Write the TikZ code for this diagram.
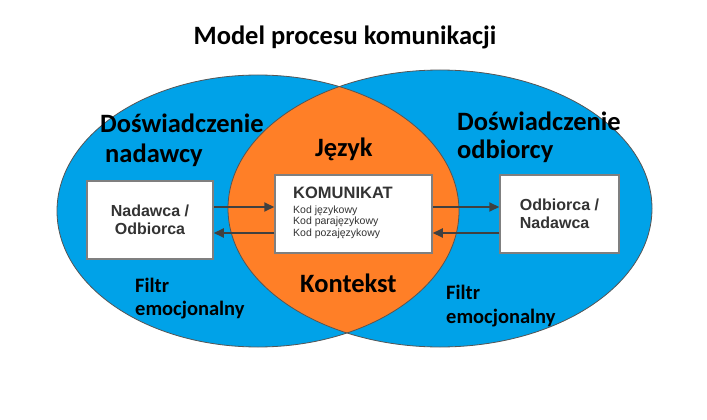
\documentclass[tikz,border=0pt]{standalone}
\usepackage{fontspec}
\setmainfont{Liberation Sans}
\newfontfamily\calfont{Carlito}
\usetikzlibrary{arrows.meta}
\definecolor{vblue}{HTML}{00A2E8}
\definecolor{vorange}{HTML}{FF7F27}
\definecolor{arrgray}{HTML}{404040}
\definecolor{boxgray}{HTML}{7F7F7F}
\definecolor{txtgray}{HTML}{333333}
\definecolor{rimgray}{HTML}{555555}
\begin{document}
\begin{tikzpicture}[x=1pt,y=-1pt,
  biglbl/.style={font=\calfont\bfseries\fontsize{26.5}{26.5}\selectfont, text=black, inner sep=0pt},
  filtrlbl/.style={font=\calfont\bfseries\fontsize{20.5}{20.5}\selectfont, text=black, inner sep=0pt},
  boxnode/.style={draw=boxgray, line width=1.5pt, fill=white, inner sep=0pt},
  boxtxt/.style={font=\bfseries\fontsize{16}{18.5}\selectfont, text=txtgray},
  codetxt/.style={font=\fontsize{10.5}{10.5}\selectfont, text=txtgray, inner sep=0pt},
  arr/.style={draw=arrgray, line width=2pt, -{Triangle[length=10pt,width=9pt]}},
  rim/.style={draw=rimgray, line width=0.8pt}
]
\useasboundingbox (0,0) rectangle (707,420);
\fill[white] (0,0) rectangle (707,420);
% ellipses
\fill[vblue] (258,211) ellipse [x radius=201pt, y radius=136pt];
\fill[vblue] (440,208.5) ellipse [x radius=212pt, y radius=138.5pt];
\begin{scope}
  \clip (258,211) ellipse [x radius=201pt, y radius=136pt];
  \fill[vorange] (440,208.5) ellipse [x radius=212pt, y radius=138.5pt];
\end{scope}
\draw[rim] (258,211) ellipse [x radius=201pt, y radius=136pt];
\draw[rim] (440,208.5) ellipse [x radius=212pt, y radius=138.5pt];

% title
\node[biglbl, anchor=base] (title) at (345,45) {Model procesu komunikacji};

% labels
\node[biglbl, anchor=base west] (dn1) at (100,132) {Doświadczenie};
\node[biglbl, anchor=base west] (dn2) at (105,162) {nadawcy};
\node[biglbl, anchor=base west] (do1) at (457,130) {Doświadczenie};
\node[biglbl, anchor=base west] (do2) at (457,158) {odbiorcy};
\node[biglbl, anchor=base west] (jez) at (315,156) {Język};
\node[biglbl, anchor=base west] (kon) at (300,292) {Kontekst};
\node[filtrlbl, anchor=base west] (fl1) at (135,292) {Filtr};
\node[filtrlbl, anchor=base west] (fl2) at (135,315) {emocjonalny};
\node[filtrlbl, anchor=base west] (fr1) at (446,299) {Filtr};
\node[filtrlbl, anchor=base west] (fr2) at (446,323) {emocjonalny};

% boxes
\node[boxnode, boxtxt, minimum width=126pt, minimum height=78pt, align=center] (nl) at (150,220) {Nadawca /\\Odbiorca};
\node[boxnode, minimum width=157pt, minimum height=78pt] (nk) at (353.5,214) {};
\node[boxnode, boxtxt, minimum width=119pt, minimum height=78pt, align=left] (nr) at (559.5,214) {Odbiorca /\\Nadawca};

\node[font=\bfseries\fontsize{16.5}{16.5}\selectfont, text=txtgray, inner sep=0pt, anchor=base west] (kt) at (293,198) {KOMUNIKAT};
\node[codetxt, anchor=base west] (k1) at (293,213) {Kod językowy};
\node[codetxt, anchor=base west] (k2) at (293,224.5) {Kod parajęzykowy};
\node[codetxt, anchor=base west] (k3) at (293,236) {Kod pozajęzykowy};

% arrows
\coordinate (ya) at (0,207);
\coordinate (yb) at (0,233);
\draw[arr] (nl.east |- ya) -- (nk.west |- ya);
\draw[arr] (nk.west |- yb) -- (nl.east |- yb);
\draw[arr] (nk.east |- ya) -- (nr.west |- ya);
\draw[arr] (nr.west |- yb) -- (nk.east |- yb);
\end{tikzpicture}
\end{document}
